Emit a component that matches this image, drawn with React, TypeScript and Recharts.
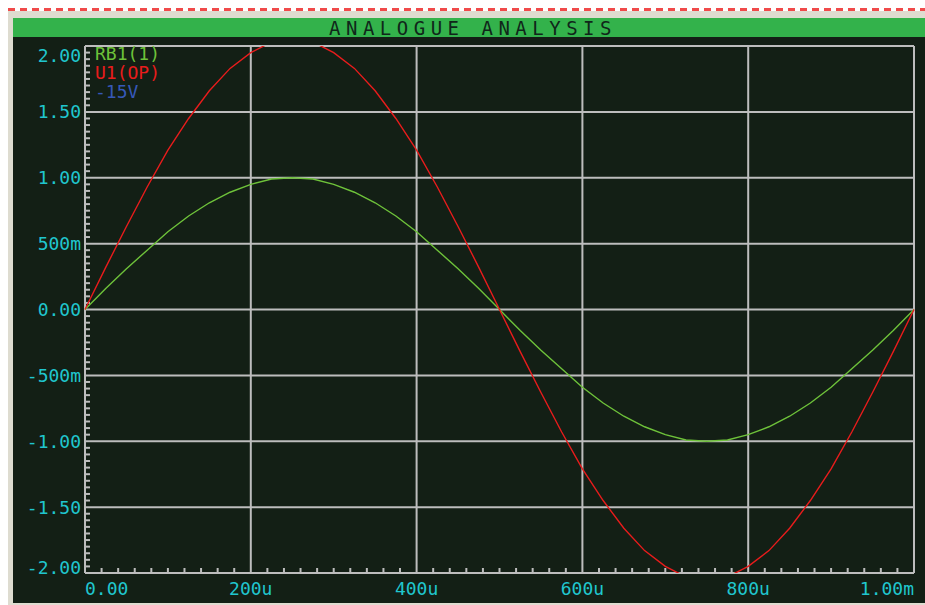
import React from "react";
import { LineChart, Line, XAxis, YAxis, CartesianGrid, ReferenceLine } from "recharts";

// time axis in microseconds
const TIME_US = [
  0, 25, 50, 75, 100, 125, 150, 175, 200, 225, 250, 275, 300, 325, 350, 375, 400,
  425, 450, 475, 500, 525, 550, 575, 600, 625, 650, 675, 700, 725, 750, 775, 800,
  825, 850, 875, 900, 925, 950, 975, 1000,
];

// RB1(1) - input probe (volts)
const RB1 = [
  0, 0.16, 0.31, 0.45, 0.59, 0.71, 0.81, 0.89, 0.95, 0.99, 1.0, 0.99, 0.95, 0.89,
  0.81, 0.71, 0.59, 0.45, 0.31, 0.16, 0, -0.16, -0.31, -0.45, -0.59, -0.71, -0.81,
  -0.89, -0.95, -0.99, -1.0, -0.99, -0.95, -0.89, -0.81, -0.71, -0.59, -0.45, -0.31,
  -0.16, 0,
];

// U1(OP) - op-amp output (volts)
const U1 = [
  0, 0.32, 0.63, 0.93, 1.21, 1.45, 1.66, 1.83, 1.95, 2.03, 2.05, 2.03, 1.95, 1.83,
  1.66, 1.45, 1.21, 0.93, 0.63, 0.32, 0, -0.32, -0.63, -0.93, -1.21, -1.45, -1.66,
  -1.83, -1.95, -2.03, -2.05, -2.03, -1.95, -1.83, -1.66, -1.45, -1.21, -0.93, -0.63,
  -0.32, 0,
];

const X_TICKS = [0, 200, 400, 600, 800, 1000];
const X_LABELS = ["0.00", "200u", "400u", "600u", "800u", "1.00m"];
const Y_TICKS = [-2, -1.5, -1, -0.5, 0, 0.5, 1, 1.5, 2];
const Y_LABELS = ["-2.00", "-1.50", "-1.00", "-500m", "0.00", "500m", "1.00", "1.50", "2.00"];

const LEGEND_ITEMS = [
  { name: "RB1(1)", color: "#6ec23a" },
  { name: "U1(OP)", color: "#e81c1c" },
  { name: "-15V", color: "#3658b8" },
];

// minor tick marks: every 20u on time axis, every 50m on voltage axis
const X_MINOR = Array.from({ length: 49 }, (_, i) => (i + 1) * 20).filter((v) => v % 200 !== 0);
const Y_MINOR = Array.from({ length: 79 }, (_, i) => Math.round((-1.95 + i * 0.05) * 100) / 100).filter(
  (v) => Math.round(v * 100) % 50 !== 0
);

const BG = "#131f15";
const GRID = "#bdbdbd";
const CYAN = "#20c6ce";
const FONT = "'DejaVu Sans Mono', monospace";

const chartData = TIME_US.map((t, i) => ({ t, rb1: RB1[i], u1: U1[i] }));

const XTick = (props: any) => {
  const { x, payload } = props;
  const i = X_TICKS.indexOf(payload.value);
  const anchor = i === 0 ? "start" : i === X_TICKS.length - 1 ? "end" : "middle";
  return (
    <text x={x} y={588} textAnchor={anchor} dominantBaseline="central" fill={CYAN} fontSize={18} fontFamily={FONT}>
      {X_LABELS[i]}
    </text>
  );
};

const YTick = (props: any) => {
  const { y, payload } = props;
  const i = Y_TICKS.indexOf(payload.value);
  const cy = Math.min(Math.max(y, 55), 567);
  return (
    <text x={81} y={cy} textAnchor="end" dominantBaseline="central" fill={CYAN} fontSize={18} fontFamily={FONT}>
      {Y_LABELS[i]}
    </text>
  );
};

export default function App() {
  return (
    <div style={{ position: "absolute", left: 0, top: 0, width: 925, height: 605, background: "#fff", overflow: "hidden" }}>
      <div style={{ position: "absolute", left: 8, top: 11, width: 917, height: 594, background: "#dedcd0" }} />
      <div
        style={{
          position: "absolute",
          left: 8,
          top: 8,
          width: 917,
          height: 3,
          background: "repeating-linear-gradient(90deg, #f04a4a 0 7px, transparent 7px 12px)",
        }}
      />
      <div
        style={{
          position: "absolute",
          left: 13,
          top: 18,
          width: 912,
          height: 19,
          background: "#33b24b",
          color: "#10261a",
          fontFamily: FONT,
          fontSize: 19,
          lineHeight: "20px",
          letterSpacing: 5.5,
          textAlign: "center",
          paddingLeft: 8,
          boxSizing: "border-box",
        }}
      >
        ANALOGUE ANALYSIS
      </div>
      <div style={{ position: "absolute", left: 13, top: 37, width: 912, height: 566, background: BG }} />
      <div style={{ position: "absolute", left: 0, top: 0 }}>
        <LineChart width={925} height={605} data={chartData} margin={{ top: 46, right: 11, bottom: 2, left: 15 }}>
          <CartesianGrid stroke={GRID} strokeWidth={2} />
          <XAxis
            dataKey="t"
            type="number"
            domain={[0, 1000]}
            ticks={X_TICKS}
            interval={0}
            height={30}
            tick={<XTick />}
            tickLine={false}
            axisLine={false}
          />
          <YAxis
            type="number"
            domain={[-2, 2]}
            allowDataOverflow
            ticks={Y_TICKS}
            interval={0}
            width={70}
            tick={<YTick />}
            tickLine={false}
            axisLine={false}
          />
          {X_MINOR.map((v) => (
            <ReferenceLine
              key={`xm-${v}`}
              segment={[
                { x: v, y: -2 },
                { x: v, y: -1.962 },
              ]}
              stroke={GRID}
              strokeWidth={2}
            />
          ))}
          {Y_MINOR.map((v) => (
            <ReferenceLine
              key={`ym-${v}`}
              segment={[
                { x: 0, y: v },
                { x: 6, y: v },
              ]}
              stroke={GRID}
              strokeWidth={2}
            />
          ))}
          <Line
            type="linear"
            dataKey="rb1"
            name="RB1(1)"
            stroke="#6ec23a"
            strokeWidth={1.4}
            dot={false}
            isAnimationActive={false}
          />
          <Line
            type="linear"
            dataKey="u1"
            name="U1(OP)"
            stroke="#e81c1c"
            strokeWidth={1.4}
            dot={false}
            isAnimationActive={false}
          />
        </LineChart>
      </div>
      <div style={{ position: "absolute", left: 95, top: 44, fontFamily: FONT, fontSize: 18, lineHeight: "19px" }}>
        {LEGEND_ITEMS.map((item) => (
          <div key={item.name} style={{ color: item.color }}>
            {item.name}
          </div>
        ))}
      </div>
    </div>
  );
}
